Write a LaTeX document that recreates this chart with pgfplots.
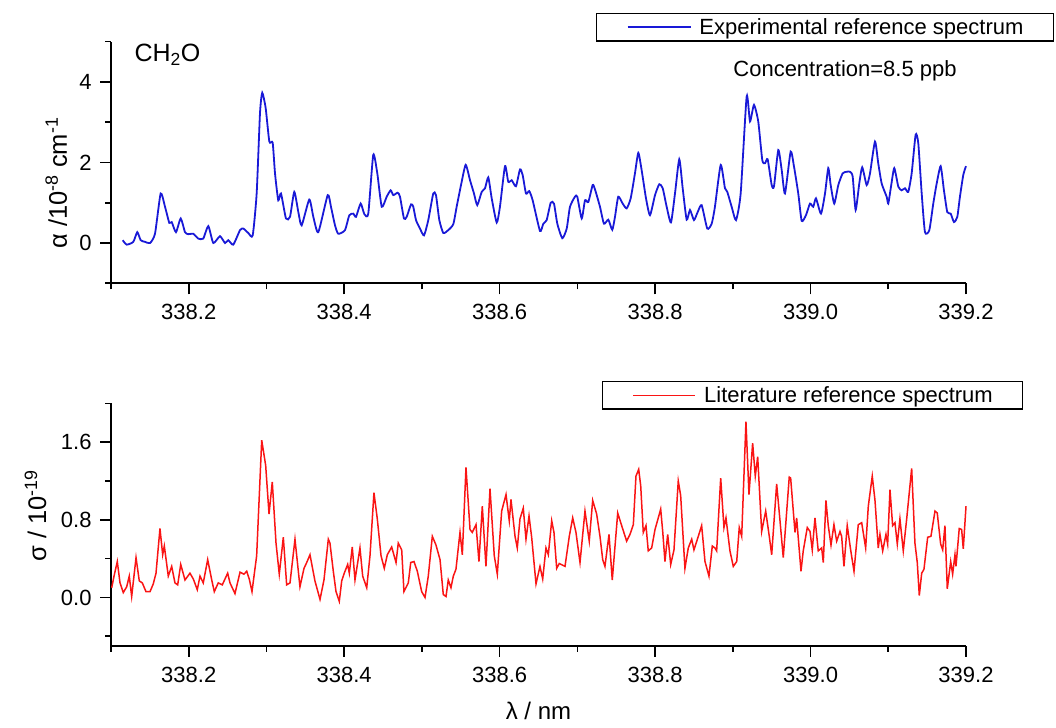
\documentclass[border=0pt]{standalone}
\usepackage{fontspec}
\setmainfont{Liberation Sans}
\usepackage{pgfplots}
\pgfplotsset{compat=1.18}
\definecolor{specblue}{RGB}{25,25,215}
\definecolor{specred}{RGB}{250,20,20}
\newcommand{\bigf}{\fontsize{22bp}{26bp}\selectfont}
\newcommand{\labf}{\fontsize{25.5bp}{30bp}\selectfont}
\pgfplotsset{
  spec/.style={
    scale only axis, width=855bp, anchor=south west,
    xmin=338.1, xmax=339.2,
    axis x line*=bottom, axis y line*=left,
    axis line style={-, line width=1.6bp},
    every tick/.style={black, line width=1.6bp},
    tick align=outside,
    major tick length=11bp, minor tick length=6bp,
    xtick={338.2,338.4,338.6,338.8,339.0,339.2},
    minor xtick={338.1,338.3,338.5,338.7,338.9,339.1},
    scaled ticks=false,
    tick label style={font=\bigf},
    /pgf/number format/assume math mode=true,
    xticklabel style={yshift=-6.5bp, /pgf/number format/fixed, /pgf/number format/fixed zerofill, /pgf/number format/precision=1},
    legend style={font=\bigf, draw=black, line width=1.2bp, anchor=north west,
      inner xsep=30bp, inner ysep=5bp, column sep=8bp, nodes={inner sep=0bp}},
    clip=false,
  }
}
\begin{document}
\begin{tikzpicture}
\path[use as bounding box] (0,0) rectangle (1056bp,728bp);
% ---------- top panel ----------
\begin{axis}[spec,
  at={(111bp,444.7bp)}, height=241.6bp,
  ymin=-1, ymax=5,
  ytick={0,2,4}, minor ytick={-1,1,3,5},
  yticklabel style={xshift=-5bp, /pgf/number format/fixed, /pgf/number format/precision=0},
  every axis y label/.style={at={(axis description cs:-0.0515,0.415)}, anchor=base, rotate=90, font=\labf},
  ylabel={α /10\textsuperscript{-8} cm\textsuperscript{-1}},
  legend style={at={(rel axis cs:0.5673,1.1188)}},
  legend image code/.code={\draw[specblue, line width=1.8bp] (0bp,0bp) -- (63bp,0bp);},
]
\addplot[specblue, line width=1.8bp, smooth, tension=0.35] coordinates {
(338.1151,0.07)(338.1202,-0.04)(338.1287,0.03)(338.1338,0.27)(338.1382,0.07)(338.1437,0.03)(338.1502,0.00)(338.1566,0.23)(338.1639,1.23)(338.1695,0.90)(338.1750,0.50)(338.1781,0.52)(338.1836,0.27)(338.1897,0.61)(338.1952,0.27)(338.1994,0.22)(338.2059,0.23)(338.2123,0.11)(338.2187,0.11)(338.2252,0.42)(338.2316,0.00)(338.2402,0.17)(338.2467,0.00)(338.2509,0.07)(338.2573,-0.04)(338.2660,0.32)(338.2702,0.36)(338.2766,0.25)(338.2823,0.19)(338.2874,1.23)(338.2917,3.23)(338.2946,3.73)(338.2990,3.35)(338.3037,2.52)(338.3080,2.49)(338.3110,1.73)(338.3152,1.06)(338.3187,1.23)(338.3251,0.61)(338.3303,0.65)(338.3358,1.27)(338.3410,0.77)(338.3453,0.44)(338.3551,1.08)(338.3603,0.65)(338.3667,0.27)(338.3788,1.19)(338.3830,0.90)(338.3882,0.44)(338.3924,0.23)(338.4010,0.32)(338.4066,0.69)(338.4117,0.73)(338.4152,0.65)(338.4212,0.98)(338.4259,0.72)(338.4310,0.73)(338.4374,2.19)(338.4426,1.73)(338.4483,0.90)(338.4547,1.15)(338.4598,1.31)(338.4632,1.19)(338.4688,1.25)(338.4718,1.15)(338.4769,0.61)(338.4804,0.65)(338.4860,0.96)(338.4889,0.90)(338.4924,0.57)(338.4975,0.36)(338.5027,0.19)(338.5082,0.57)(338.5146,1.23)(338.5181,1.19)(338.5224,0.57)(338.5275,0.25)(338.5339,0.32)(338.5404,0.47)(338.5447,0.90)(338.5503,1.44)(338.5563,1.94)(338.5619,1.56)(338.5670,1.23)(338.5712,0.94)(338.5769,1.27)(338.5812,1.36)(338.5854,1.63)(338.5898,1.11)(338.5962,0.51)(338.6004,0.90)(338.6069,1.91)(338.6111,1.52)(338.6155,1.56)(338.6210,1.41)(338.6262,1.83)(338.6296,1.69)(338.6339,1.23)(338.6381,1.29)(338.6425,1.06)(338.6519,0.30)(338.6562,0.48)(338.6605,0.57)(338.6657,1.00)(338.6699,0.98)(338.6742,0.48)(338.6806,0.12)(338.6863,0.36)(338.6905,0.90)(338.6969,1.15)(338.6999,1.15)(338.7056,0.61)(338.7098,1.06)(338.7141,1.02)(338.7197,1.44)(338.7227,1.33)(338.7291,0.90)(338.7342,0.48)(338.7398,0.58)(338.7449,0.33)(338.7484,0.65)(338.7526,1.15)(338.7583,0.98)(338.7634,0.86)(338.7686,1.11)(338.7741,1.73)(338.7784,2.24)(338.7827,1.81)(338.7883,1.11)(338.7934,0.69)(338.7999,1.19)(338.8054,1.46)(338.8098,1.36)(338.8149,0.90)(338.8204,0.51)(338.8256,1.23)(338.8311,2.08)(338.8355,1.36)(338.8406,0.58)(338.8449,0.82)(338.8500,0.57)(338.8548,0.77)(338.8599,0.94)(338.8671,0.36)(338.8728,0.48)(338.8770,0.90)(338.8844,1.94)(338.8899,1.36)(338.8929,1.27)(338.8985,0.90)(338.9041,0.57)(338.9101,1.23)(338.9178,3.64)(338.9221,3.02)(338.9272,3.43)(338.9327,3.02)(338.9379,2.06)(338.9414,1.98)(338.9448,2.08)(338.9500,1.44)(338.9530,1.41)(338.9585,2.31)(338.9629,1.81)(338.9671,1.23)(338.9744,2.27)(338.9787,1.90)(338.9842,1.23)(338.9886,0.55)(338.9941,0.69)(338.9993,0.98)(339.0035,0.90)(339.0070,1.11)(339.0134,0.73)(339.0186,1.23)(339.0228,1.86)(339.0259,1.44)(339.0305,0.98)(339.0357,1.44)(339.0413,1.73)(339.0465,1.77)(339.0507,1.77)(339.0542,1.65)(339.0580,0.82)(339.0627,1.48)(339.0665,1.88)(339.0722,1.44)(339.0765,1.73)(339.0829,2.52)(339.0871,1.98)(339.0915,1.48)(339.0979,1.15)(339.1000,0.98)(339.1035,1.40)(339.1077,1.86)(339.1129,1.40)(339.1172,1.31)(339.1215,1.36)(339.1257,1.27)(339.1301,1.73)(339.1352,2.69)(339.1386,2.48)(339.1430,1.23)(339.1472,0.27)(339.1528,0.32)(339.1579,0.98)(339.1623,1.48)(339.1674,1.91)(339.1716,1.31)(339.1759,0.77)(339.1803,0.73)(339.1845,0.52)(339.1888,0.65)(339.1922,1.15)(339.1965,1.69)(339.2000,1.91)
};
\addlegendentry{Experimental reference spectrum}
\node[font=\fontsize{25bp}{30bp}\selectfont, anchor=base west] at (rel axis cs:0.0234,0.916) {CH\textsubscript{2}O};
\node[font=\bigf, anchor=base] at (rel axis cs:0.8585,0.854) {Concentration=8.5 ppb};
\end{axis}
% ---------- bottom panel ----------
\begin{axis}[spec,
  at={(111bp,82bp)}, height=242.7bp,
  ymin=-0.5, ymax=2.0,
  ytick={0,0.8,1.6}, minor ytick={-0.4,0.4,1.2,2.0},
  yticklabel style={xshift=-5bp, /pgf/number format/fixed, /pgf/number format/fixed zerofill, /pgf/number format/precision=1},
  every axis y label/.style={at={(axis description cs:-0.076,0.5365)}, anchor=base, rotate=90, font=\labf},
  ylabel={σ / 10\textsuperscript{-19}},
  every axis x label/.style={at={(axis description cs:0.5,-0.303)}, anchor=base, font=\fontsize{24bp}{28bp}\selectfont},
  xlabel={λ / nm},
  legend style={at={(rel axis cs:0.5743,1.0919)}},
  legend image code/.code={\draw[specred, line width=1.6bp] (0bp,0bp) -- (62bp,0bp);},
]
\addplot[specred, line width=1.5bp] coordinates {
(338.1009,0.10)(338.1039,0.22)(338.1081,0.37)(338.1116,0.15)(338.1158,0.05)(338.1202,0.11)(338.1235,0.22)(338.1266,0.01)(338.1322,0.41)(338.1364,0.17)(338.1403,0.15)(338.1450,0.06)(338.1502,0.06)(338.1544,0.14)(338.1579,0.25)(338.1630,0.71)(338.1665,0.44)(338.1686,0.53)(338.1737,0.22)(338.1781,0.32)(338.1823,0.15)(338.1858,0.13)(338.1897,0.34)(338.1952,0.18)(338.2016,0.25)(338.2059,0.19)(338.2110,0.08)(338.2145,0.22)(338.2187,0.15)(338.2244,0.39)(338.2296,0.18)(338.2329,0.06)(338.2380,0.15)(338.2432,0.13)(338.2501,0.25)(338.2531,0.15)(338.2595,0.04)(338.2660,0.26)(338.2711,0.24)(338.2746,0.27)(338.2779,0.19)(338.2814,0.06)(338.2874,0.43)(338.2939,1.62)(338.2990,1.36)(338.3033,0.86)(338.3075,1.19)(338.3123,0.56)(338.3165,0.24)(338.3217,0.62)(338.3260,0.13)(338.3303,0.15)(338.3367,0.60)(338.3431,0.11)(338.3483,0.30)(338.3518,0.36)(338.3560,0.44)(338.3624,0.17)(338.3689,-0.02)(338.3740,0.18)(338.3796,0.60)(338.3817,0.56)(338.3860,0.27)(338.3895,0.06)(338.3937,-0.04)(338.3968,0.17)(338.4001,0.25)(338.4045,0.34)(338.4066,0.25)(338.4104,0.52)(338.4139,0.18)(338.4203,0.51)(338.4238,0.22)(338.4290,0.10)(338.4332,0.43)(338.4383,1.08)(338.4426,0.81)(338.4474,0.43)(338.4516,0.30)(338.4555,0.44)(338.4611,0.52)(338.4667,0.36)(338.4696,0.56)(338.4740,0.49)(338.4769,0.06)(338.4825,0.15)(338.4856,0.36)(338.4898,0.37)(338.4941,0.27)(338.4997,0.06)(338.5040,0.00)(338.5082,0.22)(338.5134,0.63)(338.5181,0.54)(338.5233,0.39)(338.5275,0.03)(338.5310,0.01)(338.5339,0.18)(338.5374,0.10)(338.5404,0.22)(338.5438,0.29)(338.5490,0.67)(338.5520,0.44)(338.5567,1.34)(338.5619,0.70)(338.5648,0.67)(338.5696,0.75)(338.5734,0.37)(338.5777,0.94)(338.5824,0.32)(338.5876,1.12)(338.5931,0.43)(338.5970,0.24)(338.6026,0.89)(338.6082,1.06)(338.6124,0.79)(338.6146,1.01)(338.6198,0.63)(338.6227,0.51)(338.6262,0.81)(338.6304,0.92)(338.6339,0.60)(338.6378,0.84)(338.6412,0.62)(338.6468,0.14)(338.6519,0.32)(338.6554,0.19)(338.6596,0.51)(338.6626,0.44)(338.6670,0.79)(338.6699,0.67)(338.6734,0.30)(338.6767,0.35)(338.6841,0.32)(338.6896,0.63)(338.6940,0.82)(338.6982,0.67)(338.7034,0.36)(338.7098,0.89)(338.7153,0.58)(338.7197,1.00)(338.7248,0.86)(338.7291,0.63)(338.7326,0.39)(338.7355,0.32)(338.7407,0.65)(338.7449,0.18)(338.7519,0.87)(338.7570,0.74)(338.7634,0.58)(338.7677,0.65)(338.7720,0.75)(338.7754,1.25)(338.7789,1.32)(338.7815,1.15)(338.7848,0.67)(338.7883,0.74)(338.7912,0.48)(338.7956,0.51)(338.7999,0.70)(338.8041,0.82)(338.8072,0.91)(338.8098,0.68)(338.8127,0.37)(338.8162,0.65)(338.8201,0.34)(338.8243,0.49)(338.8298,1.20)(338.8329,1.05)(338.8384,0.30)(338.8427,0.51)(338.8471,0.60)(338.8500,0.49)(338.8556,0.63)(338.8599,0.74)(338.8642,0.37)(338.8693,0.22)(338.8736,0.53)(338.8770,0.51)(338.8792,0.48)(338.8844,1.23)(338.8886,0.72)(338.8912,0.82)(338.8963,0.48)(338.9006,0.32)(338.9050,0.37)(338.9083,0.72)(338.9114,0.63)(338.9169,1.81)(338.9208,1.06)(338.9255,1.59)(338.9289,1.25)(338.9320,1.45)(338.9371,0.68)(338.9423,0.89)(338.9469,0.63)(338.9500,0.44)(338.9564,1.17)(338.9607,0.79)(338.9649,0.41)(338.9726,1.24)(338.9744,1.23)(338.9800,0.67)(338.9821,0.82)(338.9877,0.27)(338.9906,0.48)(338.9958,0.72)(338.9993,0.68)(339.0022,0.49)(339.0057,0.82)(339.0099,0.48)(339.0143,0.51)(339.0164,0.36)(339.0198,1.00)(339.0228,0.74)(339.0263,0.54)(339.0301,0.75)(339.0336,0.58)(339.0379,0.68)(339.0400,0.63)(339.0430,0.32)(339.0472,0.74)(339.0516,0.49)(339.0559,0.27)(339.0614,0.75)(339.0658,0.77)(339.0709,0.51)(339.0743,0.94)(339.0794,1.25)(339.0829,1.00)(339.0871,0.51)(339.0893,0.65)(339.0928,0.48)(339.0970,0.65)(339.0992,0.55)(339.1022,1.11)(339.1056,0.74)(339.1086,0.77)(339.1116,0.55)(339.1150,0.81)(339.1193,0.48)(339.1237,0.81)(339.1301,1.33)(339.1343,0.56)(339.1373,0.36)(339.1399,0.02)(339.1430,0.25)(339.1459,0.29)(339.1507,0.62)(339.1549,0.63)(339.1601,0.89)(339.1630,0.87)(339.1674,0.55)(339.1700,0.49)(339.1729,0.74)(339.1759,0.09)(339.1803,0.37)(339.1828,0.24)(339.1858,0.44)(339.1871,0.32)(339.1913,0.71)(339.1944,0.70)(339.1965,0.50)(339.2000,0.94)
};
\addlegendentry{Literature reference spectrum}
\end{axis}
\end{tikzpicture}
\end{document}
